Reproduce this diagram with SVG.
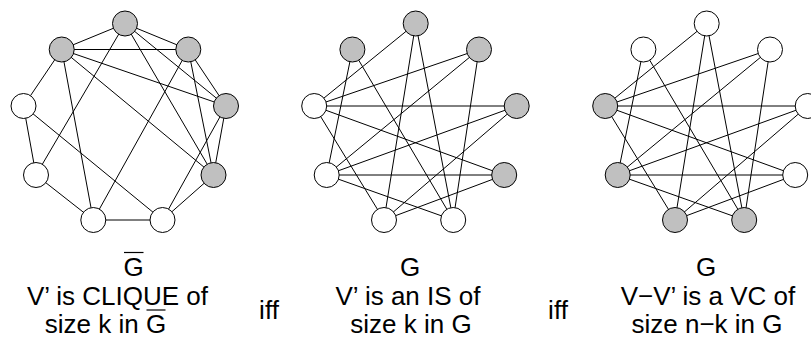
<svg xmlns="http://www.w3.org/2000/svg" width="811" height="345" viewBox="0 0 811 345">
<style>
  .e line { stroke: #000; stroke-width: 1; }
  .n circle { stroke: #000; stroke-width: 1; }
  .g { fill: #c0c0c0; }
  .w { fill: #fff; }
  text { font-family: "Liberation Sans", Arial, sans-serif; font-size: 26px; fill: #000; text-anchor: middle; }
  .bar { stroke: #000; stroke-width: 1.2; }
</style>
<rect width="811" height="345" fill="#fff"/>

<!-- Graph 1: complement of G -->
<g id="graph1">
  <g id="edges1" class="e">
    <line x1="125" y1="23.5" x2="61.7" y2="49.5"/>
    <line x1="125" y1="23.5" x2="188.3" y2="49.5"/>
    <line x1="125" y1="23.5" x2="226" y2="106"/>
    <line x1="125" y1="23.5" x2="36" y2="175"/>
    <line x1="125" y1="23.5" x2="213.5" y2="175"/>
    <line x1="61.7" y1="49.5" x2="188.3" y2="49.5"/>
    <line x1="61.7" y1="49.5" x2="23.5" y2="106"/>
    <line x1="61.7" y1="49.5" x2="226" y2="106"/>
    <line x1="61.7" y1="49.5" x2="213.5" y2="175"/>
    <line x1="61.7" y1="49.5" x2="93.3" y2="220"/>
    <line x1="188.3" y1="49.5" x2="226" y2="106"/>
    <line x1="188.3" y1="49.5" x2="213.5" y2="175"/>
    <line x1="188.3" y1="49.5" x2="93.3" y2="220"/>
    <line x1="23.5" y1="106" x2="36" y2="175"/>
    <line x1="23.5" y1="106" x2="162.5" y2="220"/>
    <line x1="226" y1="106" x2="213.5" y2="175"/>
    <line x1="226" y1="106" x2="162.5" y2="220"/>
    <line x1="36" y1="175" x2="93.3" y2="220"/>
    <line x1="213.5" y1="175" x2="162.5" y2="220"/>
    <line x1="93.3" y1="220" x2="162.5" y2="220"/>
  </g>
  <g id="g1-T" class="n"><circle class="g" cx="125" cy="23.5" r="12.5"/></g>
  <g id="g1-UL" class="n"><circle class="g" cx="61.7" cy="49.5" r="12.5"/></g>
  <g id="g1-UR" class="n"><circle class="g" cx="188.3" cy="49.5" r="12.5"/></g>
  <g id="g1-L" class="n"><circle class="w" cx="23.5" cy="106" r="12.5"/></g>
  <g id="g1-R" class="n"><circle class="g" cx="226" cy="106" r="12.5"/></g>
  <g id="g1-LL" class="n"><circle class="w" cx="36" cy="175" r="12.5"/></g>
  <g id="g1-LR" class="n"><circle class="g" cx="213.5" cy="175" r="12.5"/></g>
  <g id="g1-BL" class="n"><circle class="w" cx="93.3" cy="220" r="12.5"/></g>
  <g id="g1-BR" class="n"><circle class="w" cx="162.5" cy="220" r="12.5"/></g>
</g>

<!-- Graph 2: G, independent set shaded -->
<g id="graph2" transform="translate(290.7,0)">
  <g id="edges2" class="e">
    <line x1="23.5" y1="106" x2="125" y2="23.5"/>
    <line x1="23.5" y1="106" x2="188.3" y2="49.5"/>
    <line x1="23.5" y1="106" x2="226" y2="106"/>
    <line x1="23.5" y1="106" x2="213.5" y2="175"/>
    <line x1="23.5" y1="106" x2="93.3" y2="220"/>
    <line x1="61.7" y1="49.5" x2="36" y2="175"/>
    <line x1="61.7" y1="49.5" x2="162.5" y2="220"/>
    <line x1="125" y1="23.5" x2="93.3" y2="220"/>
    <line x1="125" y1="23.5" x2="162.5" y2="220"/>
    <line x1="188.3" y1="49.5" x2="36" y2="175"/>
    <line x1="188.3" y1="49.5" x2="162.5" y2="220"/>
    <line x1="226" y1="106" x2="36" y2="175"/>
    <line x1="226" y1="106" x2="93.3" y2="220"/>
    <line x1="213.5" y1="175" x2="36" y2="175"/>
    <line x1="213.5" y1="175" x2="93.3" y2="220"/>
    <line x1="36" y1="175" x2="162.5" y2="220"/>
  </g>
  <g id="g2-T" class="n"><circle class="g" cx="125" cy="23.5" r="12.5"/></g>
  <g id="g2-UL" class="n"><circle class="g" cx="61.7" cy="49.5" r="12.5"/></g>
  <g id="g2-UR" class="n"><circle class="g" cx="188.3" cy="49.5" r="12.5"/></g>
  <g id="g2-L" class="n"><circle class="w" cx="23.5" cy="106" r="12.5"/></g>
  <g id="g2-R" class="n"><circle class="g" cx="226" cy="106" r="12.5"/></g>
  <g id="g2-LL" class="n"><circle class="w" cx="36" cy="175" r="12.5"/></g>
  <g id="g2-LR" class="n"><circle class="g" cx="213.5" cy="175" r="12.5"/></g>
  <g id="g2-BL" class="n"><circle class="w" cx="93.3" cy="220" r="12.5"/></g>
  <g id="g2-BR" class="n"><circle class="w" cx="162.5" cy="220" r="12.5"/></g>
</g>

<!-- Graph 3: G, vertex cover shaded -->
<g id="graph3" transform="translate(581.7,0)">
  <g id="edges3" class="e">
    <line x1="23.5" y1="106" x2="125" y2="23.5"/>
    <line x1="23.5" y1="106" x2="188.3" y2="49.5"/>
    <line x1="23.5" y1="106" x2="226" y2="106"/>
    <line x1="23.5" y1="106" x2="213.5" y2="175"/>
    <line x1="23.5" y1="106" x2="93.3" y2="220"/>
    <line x1="61.7" y1="49.5" x2="36" y2="175"/>
    <line x1="61.7" y1="49.5" x2="162.5" y2="220"/>
    <line x1="125" y1="23.5" x2="93.3" y2="220"/>
    <line x1="125" y1="23.5" x2="162.5" y2="220"/>
    <line x1="188.3" y1="49.5" x2="36" y2="175"/>
    <line x1="188.3" y1="49.5" x2="162.5" y2="220"/>
    <line x1="226" y1="106" x2="36" y2="175"/>
    <line x1="226" y1="106" x2="93.3" y2="220"/>
    <line x1="213.5" y1="175" x2="36" y2="175"/>
    <line x1="213.5" y1="175" x2="93.3" y2="220"/>
    <line x1="36" y1="175" x2="162.5" y2="220"/>
  </g>
  <g id="g3-T" class="n"><circle class="w" cx="125" cy="23.5" r="12.5"/></g>
  <g id="g3-UL" class="n"><circle class="w" cx="61.7" cy="49.5" r="12.5"/></g>
  <g id="g3-UR" class="n"><circle class="w" cx="188.3" cy="49.5" r="12.5"/></g>
  <g id="g3-L" class="n"><circle class="g" cx="23.5" cy="106" r="12.5"/></g>
  <g id="g3-R" class="n"><circle class="w" cx="226" cy="106" r="12.5"/></g>
  <g id="g3-LL" class="n"><circle class="g" cx="36" cy="175" r="12.5"/></g>
  <g id="g3-LR" class="n"><circle class="w" cx="213.5" cy="175" r="12.5"/></g>
  <g id="g3-BL" class="n"><circle class="g" cx="93.3" cy="220" r="12.5"/></g>
  <g id="g3-BR" class="n"><circle class="g" cx="162.5" cy="220" r="12.5"/></g>
</g>

<!-- Labels -->
<g id="labels">
  <text x="133.5" y="276">G</text>
  <line class="bar" x1="124" y1="252.5" x2="143.5" y2="252.5"/>
  <text x="117.5" y="305">V’ is CLIQUE of</text>
  <text x="105.5" y="333">size k in G</text>
  <line class="bar" x1="146.5" y1="310" x2="165.5" y2="310"/>
  <text x="269" y="319">iff</text>

  <text x="410" y="276">G</text>
  <text x="408" y="305">V’ is an IS of</text>
  <text x="411" y="333">size k in G</text>
  <text x="558" y="319">iff</text>

  <text x="706" y="276">G</text>
  <text x="708" y="305">V−V’ is a VC of</text>
  <text x="707" y="333">size n−k in G</text>
</g>
</svg>
